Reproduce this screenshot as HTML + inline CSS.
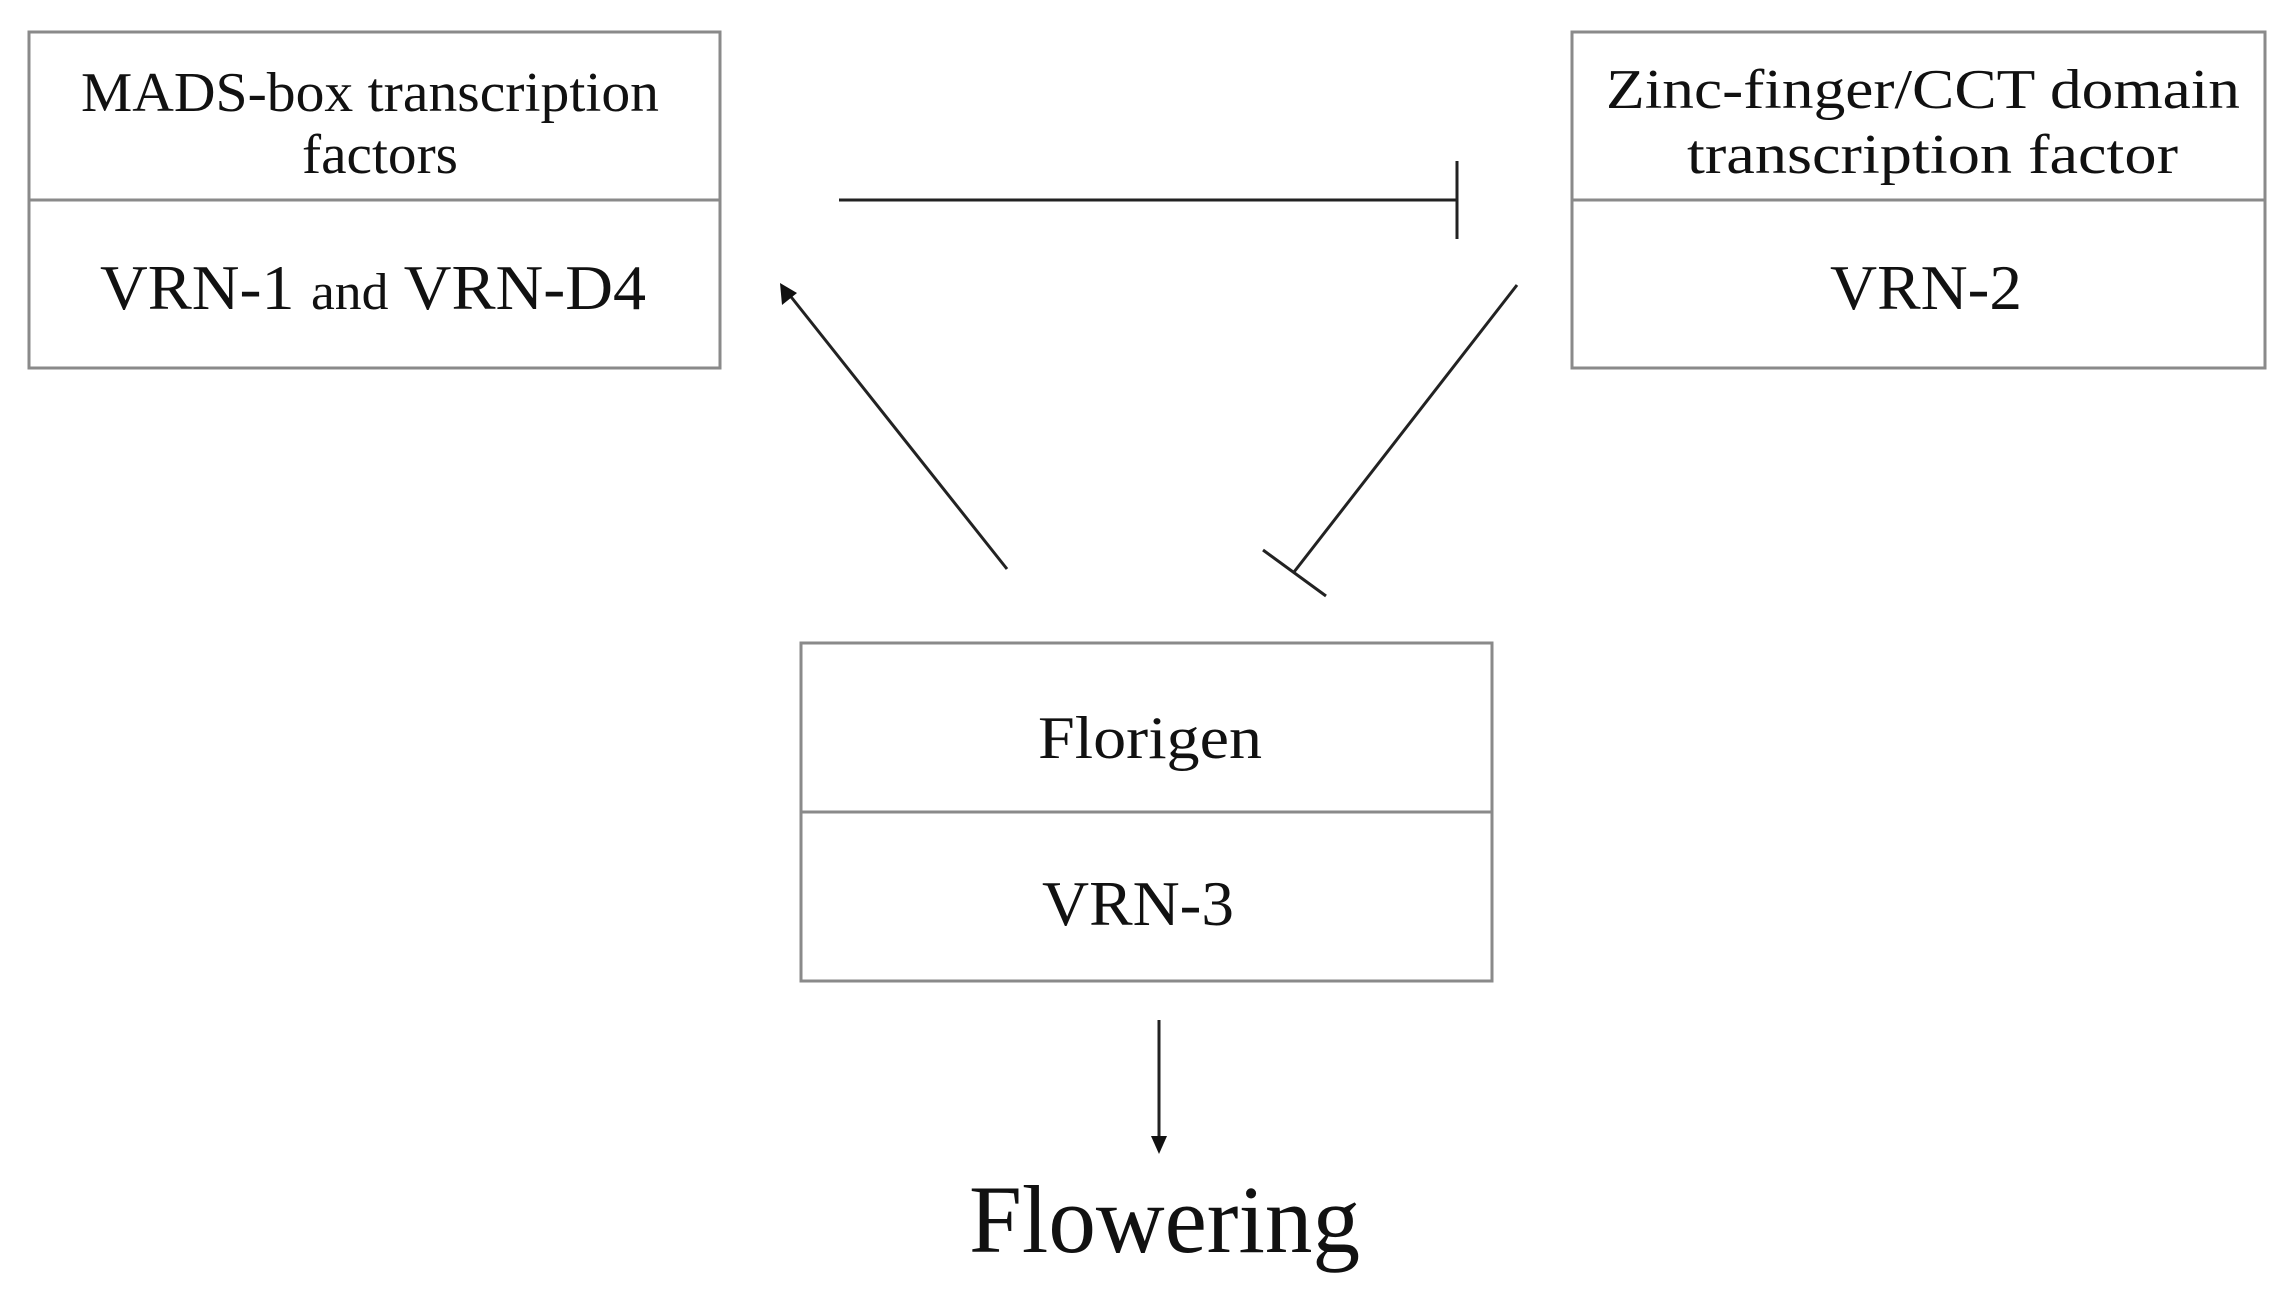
<!DOCTYPE html>
<html><head><meta charset="utf-8"><style>html,body{margin:0;padding:0;background:#fff}svg{display:block}</style></head>
<body>
<svg width="2295" height="1302" viewBox="0 0 2295 1302" xmlns="http://www.w3.org/2000/svg" font-family="'Liberation Serif', serif" fill="#111">
<g fill="none" stroke="#8a8a8a" stroke-width="3">
<rect x="29" y="32" width="691" height="336"/><line x1="29" y1="200" x2="720" y2="200"/>
<rect x="1572" y="32" width="693" height="336"/><line x1="1572" y1="200" x2="2265" y2="200"/>
<rect x="801" y="643" width="691" height="338"/><line x1="801" y1="812" x2="1492" y2="812"/>
</g>
<g stroke="#222" stroke-width="3" fill="none">
<line x1="839" y1="200" x2="1457" y2="200"/><line x1="1457" y1="161" x2="1457" y2="239"/>
<line x1="1007" y1="569" x2="788" y2="293"/>
<line x1="1517" y1="285" x2="1294" y2="572"/><line x1="1263" y1="550" x2="1326" y2="596"/>
<line x1="1159" y1="1020" x2="1159" y2="1138"/>
</g>
<polygon points="780,283 782,305 797,293" fill="#111"/>
<polygon points="1151,1136 1167,1136 1159,1154" fill="#111"/>
<text x="81" y="111" font-size="56" textLength="578" lengthAdjust="spacingAndGlyphs">MADS-box transcription</text>
<text x="302" y="173" font-size="56" textLength="156" lengthAdjust="spacingAndGlyphs">factors</text>
<text x="100" y="309" font-size="64" textLength="546" lengthAdjust="spacingAndGlyphs">VRN-1 <tspan font-size="52">and</tspan> VRN-D4</text>
<text x="1606" y="108" font-size="56" textLength="634" lengthAdjust="spacingAndGlyphs">Zinc-finger/CCT domain</text>
<text x="1687" y="173" font-size="56" textLength="491" lengthAdjust="spacingAndGlyphs">transcription factor</text>
<text x="1830" y="309" font-size="64" textLength="192" lengthAdjust="spacingAndGlyphs">VRN-2</text>
<text x="1038" y="758" font-size="60" textLength="224" lengthAdjust="spacingAndGlyphs">Florigen</text>
<text x="1042" y="925" font-size="64" textLength="192" lengthAdjust="spacingAndGlyphs">VRN-3</text>
<text x="969" y="1252" font-size="96" textLength="391" lengthAdjust="spacingAndGlyphs">Flowering</text>
</svg>
</body></html>
